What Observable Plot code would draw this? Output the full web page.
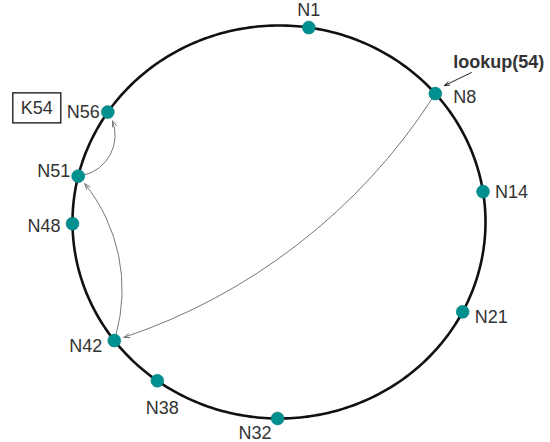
<!DOCTYPE html>
<html><head><meta charset="utf-8">
<script src="https://cdn.jsdelivr.net/npm/d3@7"></script>
<script src="https://cdn.jsdelivr.net/npm/@observablehq/plot@0.6"></script>
<style>body{margin:0;background:#fff;}</style>
</head><body><div id="chart"></div>
<script>
// ---- data ----
const nodes  = ["N1","N8","N14","N21","N32","N38","N42","N48","N51","N56"];
const angles = [8.3, 49.2, 81.1, 117.2, 180.4, 216.1, 232.9, 269.5, 283.5, 304.0]; // position on ring, degrees clockwise from top
const hopsFrom = ["N8","N42","N51"];
const hopsTo   = ["N42","N51","N56"];
const hopBend  = [20, -30, -60];
const keyLabel = "K54";
const keyNode  = "N56";
const queryLabel = "lookup(54)";
const queryNode  = "N8";

// ---- layout (label placement, px) ----
const labelPos = {
  N1:  {a:"middle", dx:0,   dy:-17},
  N8:  {a:"start",  dx:18,  dy:4},
  N14: {a:"start",  dx:12,  dy:1},
  N21: {a:"start",  dx:12,  dy:5},
  N32: {a:"end",    dx:-6,  dy:15},
  N38: {a:"middle", dx:5,   dy:27},
  N42: {a:"end",    dx:-12, dy:6},
  N48: {a:"end",    dx:-12, dy:3},
  N51: {a:"end",    dx:-8,  dy:-5},
  N56: {a:"end",    dx:-8,  dy:0}
};
const W = 550, H = 442;
const xr = [72, 485], yr = [418, 25];
const rx = (xr[1]-xr[0])/2, ry = (yr[0]-yr[1])/2;
const rad = d => d*Math.PI/180;

const table = nodes.map((n,i)=>({id:n, x:Math.sin(rad(angles[i])), y:Math.cos(rad(angles[i])), ...labelPos[n]}));
const byId = Object.fromEntries(table.map(d=>[d.id,d]));
const ring = d3.range(0, 361, 1).map(a=>({x:Math.sin(rad(a)), y:Math.cos(rad(a))}));
const hops = hopsFrom.map((f,i)=>({from:byId[f], to:byId[hopsTo[i]], bend:hopBend[i]}));
const q = byId[queryNode];
const qArrow = [{x1:q.x+36/rx, y1:q.y+21/ry, x2:q.x+9/rx, y2:q.y+8/ry}];

const font = "Liberation Sans, Arial, Helvetica, sans-serif";
const txt = "#333";
const fs = 18;

const marks = [
  Plot.line(ring, {x:"x", y:"y", stroke:"#111", strokeWidth:2.6}),
  ...hops.map(h => Plot.arrow([h], {
    x1:d=>d.from.x, y1:d=>d.from.y, x2:d=>d.to.x, y2:d=>d.to.y,
    bend:h.bend, stroke:"#777", strokeWidth:1, headLength:9, headAngle:40,
    insetStart:6, insetEnd:10
  })),
  Plot.arrow(qArrow, {x1:"x1", y1:"y1", x2:"x2", y2:"y2", stroke:"#222", strokeWidth:1, headLength:8, headAngle:40}),
  Plot.dot(table, {x:"x", y:"y", r:6.5, fill:"#009090", stroke:"#0a7a7a", strokeWidth:0.5}),
  ...table.map(d => Plot.text([d], {
    x:"x", y:"y", text:"id", textAnchor:d.a, dx:d.dx, dy:d.dy,
    fontSize:fs, fontFamily:font, fill:txt
  })),
  Plot.text([byId[keyNode]], {x:"x", y:"y", text:()=>keyLabel, textAnchor:"middle", dx:-71, dy:-4, fontSize:fs, fontFamily:font, fill:txt}),
  Plot.text([q], {x:"x", y:"y", text:()=>queryLabel, textAnchor:"start", dx:18, dy:-31, fontSize:fs, fontWeight:"bold", fontFamily:font, fill:txt})
];

const svg = Plot.plot({
  width:W, height:H, margin:0,
  x:{domain:[-1,1], range:xr, axis:null},
  y:{domain:[-1,1], range:yr, axis:null},
  style:{background:"#fff", overflow:"visible"},
  marks
});
document.getElementById("chart").append(svg);
// box around key label
const keyText = [...svg.querySelectorAll("text")].find(t=>t.textContent===keyLabel);
if (keyText) {
  const b = keyText.getBBox();
  const rect = document.createElementNS("http://www.w3.org/2000/svg","rect");
  const padX = (48 - b.width)/2, padY = (30 - b.height)/2;
  rect.setAttribute("x", b.x-padX); rect.setAttribute("y", b.y-padY);
  rect.setAttribute("width", b.width+2*padX); rect.setAttribute("height", b.height+2*padY);
  rect.setAttribute("fill","none"); rect.setAttribute("stroke","#111"); rect.setAttribute("stroke-width","1.3");
  const tr = keyText.getAttribute("transform");
  if (tr) rect.setAttribute("transform", tr);
  keyText.parentNode.insertBefore(rect, keyText);
}
</script>
</body></html>
